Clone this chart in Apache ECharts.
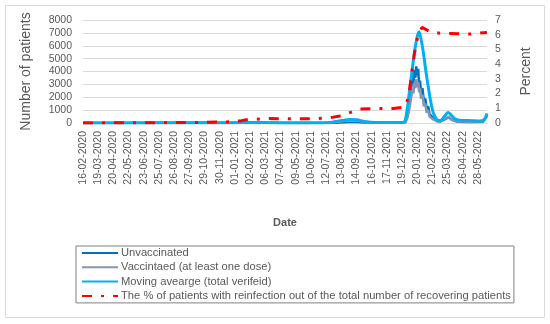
<!DOCTYPE html>
<html><head><meta charset="utf-8">
<script src="https://cdn.jsdelivr.net/npm/echarts@6/dist/echarts.min.js"></script>
<style>html,body{margin:0;padding:0;background:#fff}#c{width:550px;height:324px}</style>
</head><body><div id="c"></div>
<script>
var tickLabels = ['16-02-2020','19-03-2020','20-04-2020','22-05-2020','23-06-2020','25-07-2020','26-08-2020','27-09-2020','29-10-2020','30-11-2020','01-01-2021','02-02-2021','06-03-2021','07-04-2021','09-05-2021','10-06-2021','12-07-2021','13-08-2021','14-09-2021','16-10-2021','17-11-2021','19-12-2021','20-01-2022','21-02-2022','25-03-2022','26-04-2022','28-05-2022'];

var unvacDates = ['2020-02-16','2021-07-20','2021-08-20','2021-09-05','2021-10-01','2021-12-20','2021-12-26','2021-12-30','2022-01-03','2022-01-07','2022-01-10','2022-01-12','2022-01-14','2022-01-16','2022-01-18','2022-01-20','2022-01-22','2022-01-24','2022-01-26','2022-01-28','2022-01-31','2022-02-03','2022-02-06','2022-02-09','2022-02-12','2022-02-15','2022-02-18','2022-02-22','2022-02-26','2022-03-03','2022-03-10','2022-03-20','2022-03-27','2022-04-03','2022-04-15','2022-05-15','2022-06-08','2022-06-16'];
var unvacValues = [0,5,60,90,40,10,80,500,1500,2600,3600,3100,4100,3500,4400,3700,4200,3000,3300,2300,2700,1700,1900,1100,1300,700,800,400,350,150,120,300,450,250,100,80,100,600];

var vacDates = ['2020-02-16','2021-07-20','2021-08-20','2021-09-05','2021-09-20','2021-10-10','2021-12-20','2021-12-26','2021-12-30','2022-01-03','2022-01-07','2022-01-10','2022-01-12','2022-01-14','2022-01-16','2022-01-18','2022-01-20','2022-01-22','2022-01-24','2022-01-26','2022-01-28','2022-01-31','2022-02-03','2022-02-06','2022-02-09','2022-02-12','2022-02-15','2022-02-18','2022-02-22','2022-02-26','2022-03-03','2022-03-10','2022-03-20','2022-03-27','2022-04-03','2022-04-15','2022-05-15','2022-06-08','2022-06-16'];
var vacValues = [0,10,150,200,150,40,15,60,350,1000,1900,2600,2300,3100,2700,3400,2800,3200,2400,2700,1900,2200,1300,1500,800,1000,500,600,300,280,120,120,350,500,250,120,100,120,500];

var maDates = ['2020-02-16','2020-06-01','2020-09-15','2020-10-10','2020-12-01','2021-01-15','2021-03-01','2021-05-01','2021-07-10','2021-07-25','2021-08-15','2021-09-01','2021-09-15','2021-10-01','2021-10-25','2021-12-15','2021-12-24','2021-12-28','2022-01-03','2022-01-09','2022-01-14','2022-01-20','2022-01-24','2022-01-28','2022-02-01','2022-02-08','2022-02-16','2022-02-23','2022-03-03','2022-03-10','2022-03-18','2022-03-26','2022-04-02','2022-04-10','2022-04-25','2022-05-15','2022-06-01','2022-06-10','2022-06-16'];
var maValues = [0,5,20,25,15,40,30,5,10,60,200,280,250,120,40,30,80,600,2250,4000,5440,6700,7080,6500,5700,3840,1960,780,250,200,500,820,600,300,200,180,150,250,750];

var pctDates = ['2020-02-16','2020-06-01','2020-10-01','2020-12-22','2021-01-15','2021-01-25','2021-02-20','2021-03-10','2021-05-10','2021-06-20','2021-07-18','2021-08-10','2021-08-27','2021-09-21','2021-11-01','2021-12-01','2021-12-22','2021-12-27','2022-01-03','2022-01-08','2022-01-14','2022-01-21','2022-01-30','2022-02-16','2022-03-09','2022-05-12','2022-06-16'];
var pctValues = [0,0.02,0.03,0.08,0.16,0.22,0.27,0.3,0.28,0.3,0.34,0.48,0.66,0.95,0.98,0.98,1.07,1.15,2.0,3.3,4.7,5.9,6.5,6.2,6.1,6.05,6.15];

var T0 = Date.UTC(2020,1,16);
function dayIndex(s){var p=s.split('-');return Math.round((Date.UTC(+p[0],+p[1]-1,+p[2])-T0)/86400000);}
function pairs(d,v){return d.map(function(s,i){return [dayIndex(s),v[i]];});}

var gray = '#595959';
var chart = echarts.init(document.getElementById('c'), null, {renderer:'canvas'});
chart.setOption({
  animation:false,
  textStyle:{fontFamily:'Liberation Sans'},
  graphic:[{type:'rect',shape:{x:5.5,y:5.5,width:539,height:312},style:{fill:'none',stroke:'#d9d9d9',lineWidth:1},silent:true}],
  grid:{left:83,right:63,top:20,bottom:201},
  legend:{
    orient:'vertical',left:76,top:246,
    padding:[1,3,1,5],itemGap:2.3,itemWidth:36,itemHeight:4,
    borderColor:'#808080',borderWidth:1,
    itemStyle:{opacity:0},
    textStyle:{color:gray,fontSize:11.2,lineHeight:12,padding:[0,0,0,-2]},
    data:['Unvaccinated','Vaccintaed (at least one dose)','Moving avearge (total verifeid)','The % of patients with reinfection out of the total number of recovering patients']
  },
  xAxis:{
    type:'value',min:0,max:851,interval:32,
    name:'Date',nameLocation:'middle',nameGap:94,
    nameTextStyle:{color:gray,fontSize:11,fontWeight:'bold'},
    axisLine:{show:true,lineStyle:{color:'#d9d9d9'}},
    axisTick:{show:false},
    splitLine:{show:false},
    axisLabel:{rotate:90,margin:8,color:gray,fontSize:10.5,showMaxLabel:false,
      formatter:function(v){return (v%32===0 && tickLabels[v/32])?tickLabels[v/32]:'';}}
  },
  yAxis:[{
    type:'value',min:0,max:8000,interval:1000,
    name:'Number of patients',nameLocation:'middle',nameGap:50,nameRotate:90,
    nameTextStyle:{color:gray,fontSize:14},
    axisLine:{show:false},axisTick:{show:false},
    splitLine:{lineStyle:{color:'#d9d9d9'}},
    axisLabel:{color:gray,fontSize:10.5,margin:11,formatter:function(v){return String(v);}}
  },{
    type:'value',min:0,max:7,interval:1,position:'right',
    name:'Percent',nameLocation:'middle',nameGap:32,nameRotate:90,
    nameTextStyle:{color:gray,fontSize:14},
    axisLine:{show:false},axisTick:{show:false},splitLine:{show:false},
    axisLabel:{color:gray,fontSize:10.5,margin:8}
  }],
  series:[
    {name:'Unvaccinated',type:'line',yAxisIndex:0,showSymbol:false,symbol:'none',
     data:pairs(unvacDates,unvacValues),lineStyle:{color:'#0070C0',width:2.5},itemStyle:{color:'#0070C0'}},
    {name:'Vaccintaed (at least one dose)',type:'line',yAxisIndex:0,showSymbol:false,symbol:'none',
     data:pairs(vacDates,vacValues),lineStyle:{color:'#8497B0',width:2.5},itemStyle:{color:'#8497B0'}},
    {name:'Moving avearge (total verifeid)',type:'line',yAxisIndex:0,showSymbol:false,symbol:'none',smooth:0.3,
     data:pairs(maDates,maValues),lineStyle:{color:'#00B0F0',width:3},itemStyle:{color:'#00B0F0'}},
    {name:'The % of patients with reinfection out of the total number of recovering patients',type:'line',yAxisIndex:1,showSymbol:false,symbol:'none',
     data:pairs(pctDates,pctValues),lineStyle:{color:'#FF0000',width:3,type:[10,9,3,9]},itemStyle:{color:'#FF0000'}}
  ]
});
</script></body></html>
